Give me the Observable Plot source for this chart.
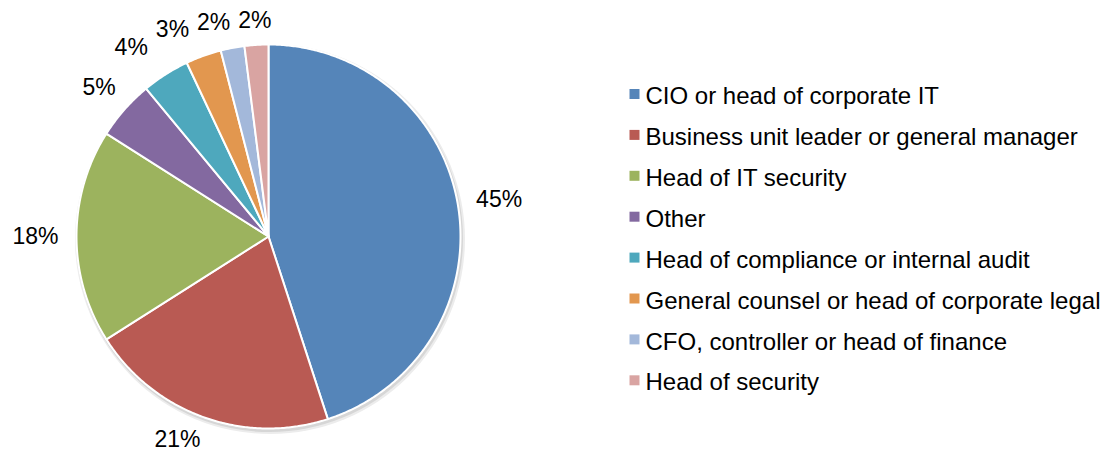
<!DOCTYPE html>
<html>
<head>
<meta charset="utf-8">
<script src="https://cdn.jsdelivr.net/npm/d3@7"></script>
<script src="https://cdn.jsdelivr.net/npm/@observablehq/plot@0.6"></script>
<style>
  html, body { margin: 0; padding: 0; background: #fff; }
  #chart svg { display: block; overflow: visible; }
</style>
</head>
<body>
<div id="chart"></div>
<script>
// ---- data ----
const roles = [
  "CIO or head of corporate IT",
  "Business unit leader or general manager",
  "Head of IT security",
  "Other",
  "Head of compliance or internal audit",
  "General counsel or head of corporate legal",
  "CFO, controller or head of finance",
  "Head of security"
];
const shares = [45, 21, 18, 5, 4, 3, 2, 2];
const colors = ["#5585B9", "#B95A53", "#9CB35E", "#8369A0", "#4EA8BD", "#E2974F", "#A3B8DA", "#D9A4A2"];

// ---- geometry (derived) ----
const W = 1105, H = 453;
const cx = 268, cy = 236, R = 192;     // pie centre and radius in pixels
const total = d3.sum(shares);

// wedge outlines in scale units (radius = 1)
const wedgePts = [];
let acc = 0;
shares.forEach((v, i) => {
  const a0 = acc / total * 2 * Math.PI;
  const a1 = (acc + v) / total * 2 * Math.PI;
  acc += v;
  wedgePts.push({role: roles[i], x: 0, y: 0});
  const n = Math.max(2, Math.ceil((a1 - a0) / (Math.PI / 360)));
  for (let k = 0; k <= n; k++) {
    const a = a0 + (a1 - a0) * k / n;
    wedgePts.push({role: roles[i], x: Math.sin(a), y: Math.cos(a)});
  }
  wedgePts.push({role: roles[i], x: 0, y: 0});
});

// percentage labels: outside the pie, with simple collision avoidance
const fs = 23, pad = 18, halfH = 5, gap = 8;
acc = 0;
const labs = shares.map((v, i) => {
  const mid = (acc + v / 2) / total * 2 * Math.PI;
  acc += v;
  const text = v + "%";
  const w = ((text.length - 1) * 0.556 + 0.889) * fs / 2;
  const ux = Math.sin(mid), uy = -Math.cos(mid);
  const d = R + pad + Math.abs(ux) * w + Math.abs(uy) * halfH;
  let px = ux * d, py = uy * d;
  const maxPy = (H - 14) - cy;
  if (py > maxPy) { py = maxPy; px = Math.sign(ux) * Math.sqrt(Math.max(0, d * d - py * py)); }
  return {text, w, px, py};
});
for (let i = labs.length - 2; i >= 0; i--) {
  const a = labs[i], b = labs[i + 1];
  if (Math.abs(a.py - b.py) < fs && a.px + a.w + gap > b.px - b.w && a.px < b.px + b.w) {
    a.px = b.px - b.w - gap - a.w;
  }
}
const labelData = labs.map(l => ({text: l.text, x: l.px / R, y: -l.py / R}));

// legend rows
const legX = (634 - cx) / R, legTextX = (645 - cx) / R;
const legend = roles.map((r, i) => {
  const yc = 96 + i * 40.9;
  return {role: r, ys: (cy - (yc - 2.5)) / R, yt: (cy - yc) / R};
});

const chart = Plot.plot({
  width: W,
  height: H,
  marginLeft: cx - R,
  marginRight: W - (cx + R),
  marginTop: cy - R,
  marginBottom: H - (cy + R),
  x: {domain: [-1, 1], axis: null},
  y: {domain: [-1, 1], axis: null},
  color: {domain: roles, range: colors},
  style: {fontFamily: "'Liberation Sans', Arial, sans-serif", background: "#fff", overflow: "visible"},
  marks: [
    // soft shadow behind the pie
    Plot.dot([{x: 0, y: 0}], {x: "x", y: "y", r: R + 3, fill: "#ececec", stroke: "none", dx: 1.5, dy: 2.5}),
    Plot.dot([{x: 0, y: 0}], {x: "x", y: "y", r: R + 1.5, fill: "#d6d6d6", stroke: "none", dx: 1, dy: 2}),
    Plot.line(wedgePts, {x: "x", y: "y", z: "role", fill: "role", stroke: "white", strokeWidth: 2, curve: "linear", strokeLinejoin: "round"}),
    Plot.text(labelData, {x: "x", y: "y", text: "text", fontSize: fs, fill: "#000", textAnchor: "middle", lineAnchor: "middle"}),
    Plot.dot(legend, {x: () => legX, y: "ys", fill: "role", symbol: "square", r: 5.64, stroke: "none"}),
    Plot.text(legend, {x: () => legTextX, y: "yt", text: "role", fontSize: 24, fill: "#000", textAnchor: "start", lineAnchor: "middle"})
  ]
});
document.getElementById("chart").appendChild(chart);
</script>
</body>
</html>
